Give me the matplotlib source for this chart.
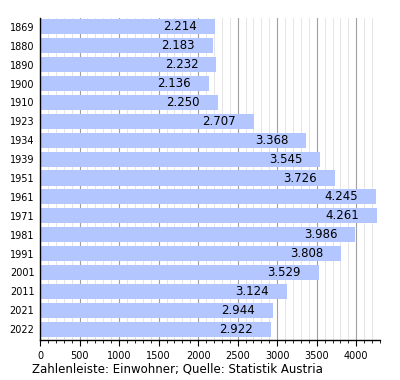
import numpy as np
import matplotlib.pyplot as plt
from matplotlib.ticker import MultipleLocator

# Einwohnerentwicklung
jahre = ["1869", "1880", "1890", "1900", "1910", "1923", "1934", "1939", "1951",
         "1961", "1971", "1981", "1991", "2001", "2011", "2021", "2022"]
einwohner = [2214, 2183, 2232, 2136, 2250, 2707, 3368, 3545, 3726,
             4245, 4261, 3986, 3808, 3529, 3124, 2944, 2922]

fig = plt.figure(figsize=(4, 3.8), dpi=100)
ax = fig.add_axes([0.1, 0.105, 0.85, 0.848])

y = np.arange(len(jahre))
ax.barh(y, einwohner, height=0.8, color="#b3c6ff", zorder=2)

for yi, v in zip(y, einwohner):
    label = f"{v:,}".replace(",", ".")
    ax.annotate(label, (v, yi), xytext=(-18, 0), textcoords="offset pixels",
                ha="right", va="center", fontsize=8.5, color="black", zorder=3)

ax.set_xlim(0, 4300)
ax.set_ylim(16.58, -0.48)
ax.set_yticks(y)
ax.set_yticklabels(jahre, fontsize=7)
ax.tick_params(axis="y", length=0, pad=4)

ax.xaxis.set_major_locator(MultipleLocator(500))
ax.xaxis.set_minor_locator(MultipleLocator(100))
ax.tick_params(axis="x", which="major", labelsize=7, length=4, direction="out", width=0.8)
ax.tick_params(axis="x", which="minor", length=2.5, direction="out", width=0.6)
ax.grid(axis="x", which="major", color="#a0a0a0", linewidth=0.8, zorder=0)
ax.grid(axis="x", which="minor", color="#e0e0e0", linewidth=0.6, zorder=0)
ax.set_axisbelow(True)

for s in ["top", "right"]:
    ax.spines[s].set_visible(False)
ax.spines["left"].set_linewidth(1)
ax.spines["bottom"].set_linewidth(1)

fig.text(0.08, 0.02, "Zahlenleiste: Einwohner; Quelle: Statistik Austria", fontsize=8.5)

fig.savefig("out.png", dpi=100)
